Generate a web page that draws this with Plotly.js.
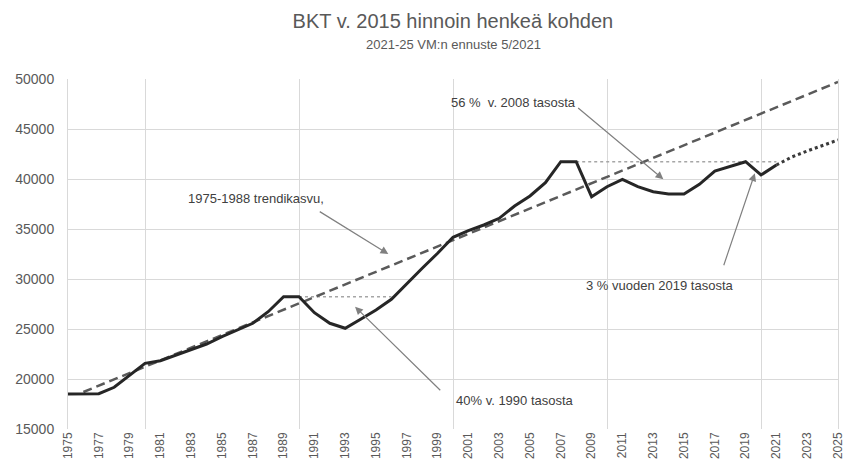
<!DOCTYPE html>
<html>
<head>
<meta charset="utf-8">
<script src="https://cdn.plot.ly/plotly-3.0.1.min.js"></script>
<style>html,body{margin:0;padding:0;background:#fff}#chart{width:845px;height:473px}</style>
</head>
<body>
<div id="chart"></div>
<script>
// Historical GDP per capita (2015 prices), 1975-2021
const years = [1975,1976,1977,1978,1979,1980,1981,1982,1983,1984,1985,1986,1987,1988,1989,1990,1991,1992,1993,1994,1995,1996,1997,1998,1999,2000,2001,2002,2003,2004,2005,2006,2007,2008,2009,2010,2011,2012,2013,2014,2015,2016,2017,2018,2019,2020,2021];
const gdp = [18500,18500,18530,19170,20400,21570,21830,22400,22900,23500,24230,24900,25570,26730,28230,28230,26630,25570,25070,25970,26900,27970,29570,31070,32570,34170,34830,35400,36070,37300,38300,39630,41730,41730,38230,39230,39970,39230,38730,38500,38500,39470,40800,41230,41730,40400,41400];
// VM forecast 2021-2025
const fcYears = [2021,2022,2023,2024,2025];
const fcValues = [41400,42200,42800,43350,43900];
// 1975-1988 trend line extended
const trendYears = [1976,2025];
const trendValues = [18700,49700];
// Reference levels
const ref1990Years = [1990,1996];
const ref1990Values = [28230,28230];
const ref2008Years = [2008,2021];
const ref2008Values = [41730,41730];

const title = 'BKT v. 2015 hinnoin henkeä kohden';
const subtitle = '2021-25 VM:n ennuste 5/2021';

const sans = '"Liberation Sans",Arial,sans-serif';
const txtFont = {family:sans, size:13, color:'#404040'};
const arrowColor = '#808080';

const traces = [
  {x:ref1990Years, y:ref1990Values, mode:'lines', line:{color:'#a6a6a6', width:1.6, dash:'dot'}, hoverinfo:'skip'},
  {x:ref2008Years, y:ref2008Values, mode:'lines', line:{color:'#a6a6a6', width:1.6, dash:'dot'}, hoverinfo:'skip'},
  {x:trendYears, y:trendValues, mode:'lines', line:{color:'#5a5a5a', width:2.5, dash:'9px,5px'}},
  {x:fcYears, y:fcValues, mode:'lines', line:{color:'#3a3a3a', width:3, dash:'dot'}},
  {x:years, y:gdp, mode:'lines', line:{color:'#262626', width:3}}
];

function arrow(hx, hy, tx, ty){
  return {x:hx, y:hy, ax:tx, ay:ty, xref:'x', yref:'y', axref:'x', ayref:'y', text:'', showarrow:true,
    arrowhead:2, arrowsize:1.3, arrowwidth:1.2, arrowcolor:arrowColor};
}
function label(x, y, t){
  return {x:x, y:y, xref:'x', yref:'y', text:t, showarrow:false, font:txtFont, xanchor:'center', yanchor:'middle'};
}

const layout = {
  width:845, height:473,
  margin:{l:68, r:7, t:79, b:44},
  paper_bgcolor:'#fff', plot_bgcolor:'#fff',
  showlegend:false,
  title:{text:title, x:0.536, xanchor:'center', y:1-21/473, yanchor:'middle', yref:'container',
    font:{family:sans, size:20, color:'#595959'}},
  xaxis:{range:[1975,2025], tick0:1975, dtick:2, tickangle:-90, showgrid:false, zeroline:false, showline:false,
    ticks:'', ticklabeloverflow:'allow', tickfont:{family:sans, size:12, color:'#595959'},
    minor:{tick0:1975, dtick:5, showgrid:true, gridcolor:'#d9d9d9', gridwidth:1}},
  yaxis:{range:[15000,50000], dtick:5000, tickformat:'d', gridcolor:'#d9d9d9', gridwidth:1, zeroline:false,
    showline:true, mirror:true, linecolor:'#d9d9d9', linewidth:1,
    ticks:'', ticklabelstandoff:10, tickfont:{family:sans, size:14, color:'#595959'}},
  annotations:[
    {xref:'paper', yref:'paper', x:0.5, y:(429-45)/350, xanchor:'center', yanchor:'middle', text:subtitle, showarrow:false,
      font:{family:sans, size:13, color:'#595959'}},
    label(2003.93, 47630, '56 % &nbsp;v. 2008 tasosta'),
    arrow(2013.66, 39970, 2008.03, 47230),
    label(1987.2, 38070, '1975-1988 trendikasvu,'),
    arrow(1995.8, 32500, 1991.25, 36830),
    label(2004.0, 17900, '40% v. 1990 tasosta'),
    arrow(1993.64, 27230, 1999.27, 18730),
    label(2013.44, 29400, '3 % vuoden 2019 tasosta'),
    arrow(2019.6, 40570, 2017.55, 31230)
  ]
};

Plotly.newPlot('chart', traces, layout, {staticPlot:true, displayModeBar:false});
</script>
</body>
</html>
